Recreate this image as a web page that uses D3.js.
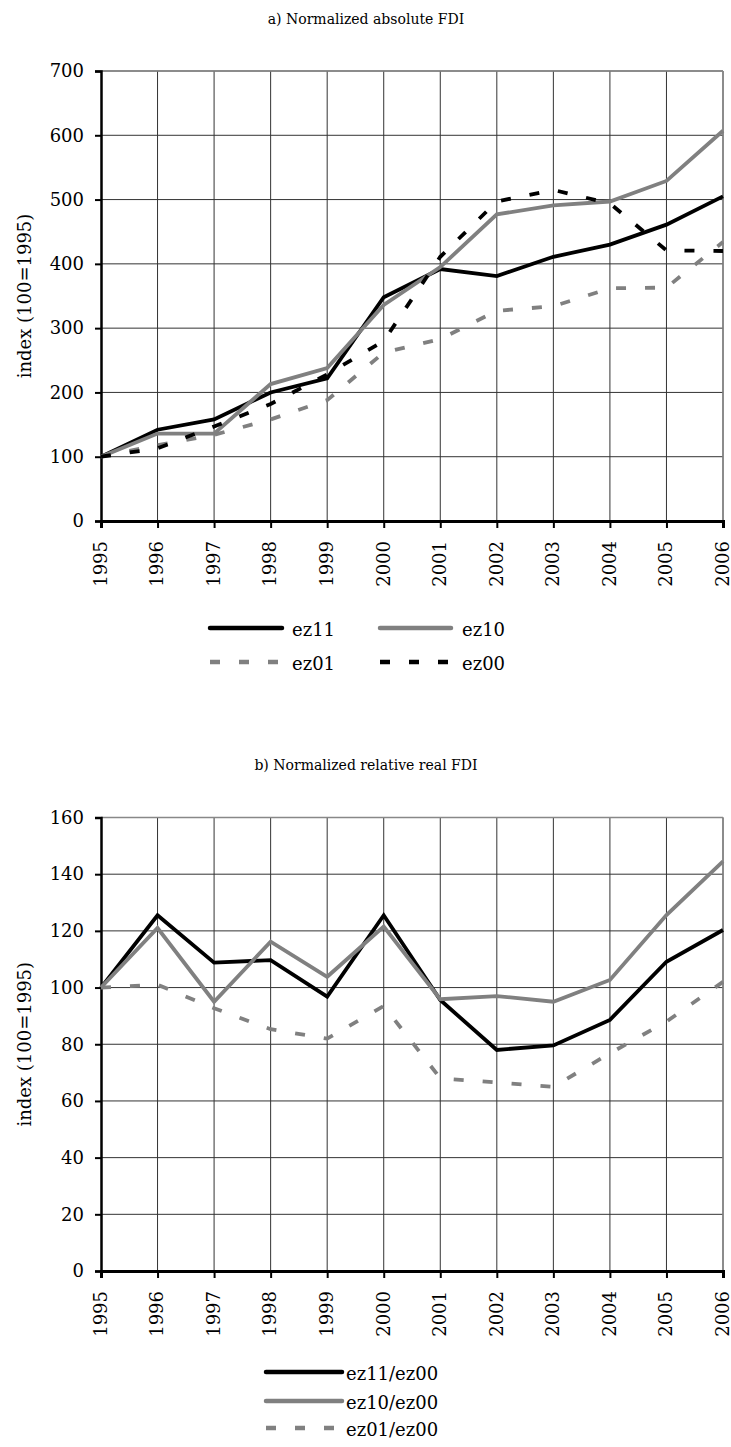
<!DOCTYPE html>
<html>
<head>
<meta charset="utf-8">
<script src="https://cdn.jsdelivr.net/npm/d3@7"></script>
<style>
  html, body { margin: 0; padding: 0; background: #fff; }
  svg { display: block; }
  text { font-family: "DejaVu Serif", serif; fill: #000; }
</style>
</head>
<body>
<svg id="chart" width="731" height="1447"></svg>
<script>
// ---------- data ----------
const years = [1995, 1996, 1997, 1998, 1999, 2000, 2001, 2002, 2003, 2004, 2005, 2006];

// a) Normalized absolute FDI
const absEz11 = [100, 142, 158, 200, 222, 348, 392, 381, 411, 430, 461, 505];
const absEz10 = [100, 136, 136, 213, 238, 336, 395, 477, 491, 497, 529, 607];
const absEz01 = [100, 118, 134, 158, 188, 262, 283, 327, 334, 362, 363, 434];
const absEz00 = [100, 113, 147, 182, 228, 280, 411, 497, 515, 494, 421, 420];
const absTicks = [0, 100, 200, 300, 400, 500, 600, 700];

// b) Normalized relative real FDI
const relEz11 = [100, 125.5, 108.8, 109.7, 96.8, 125.5, 95.6, 78, 79.6, 88.6, 109.1, 120.3];
const relEz10 = [100, 121, 95, 116.2, 103.8, 121.5, 95.9, 97, 95, 102.7, 125.6, 144.5];
const relEz01 = [100, 101, 92.7, 85.3, 82, 93.5, 68, 66.5, 65, 76.8, 88, 102];
const relTicks = [0, 20, 40, 60, 80, 100, 120, 140, 160];

const titleA = "a) Normalized absolute FDI";
const titleB = "b) Normalized relative real FDI";
const yLabel = "index (100=1995)";

// ---------- styles ----------
const FONT = "'DejaVu Serif', serif";
const BLACK = "#000000", GRAY = "#808080";
const DASH = "10,19";

const svg = d3.select("#chart");
svg.append("rect").attr("width", 731).attr("height", 1447).attr("fill", "#fff");

function panel(cfg) {
  const g = svg.append("g");
  const x = d3.scalePoint().domain(years).range([cfg.left, cfg.right]);
  const y = d3.scaleLinear().domain([0, d3.max(cfg.ticks)]).range([cfg.bottom, cfg.top]);

  // title
  g.append("text").attr("x", 366).attr("y", cfg.titleY)
    .attr("text-anchor", "middle").style("font-family", FONT).style("font-size", "14px").text(cfg.title);

  // grid
  g.append("g").selectAll("line").data(cfg.ticks.filter(t => t > 0)).join("line")
    .attr("x1", cfg.left).attr("x2", cfg.right)
    .attr("y1", d => y(d)).attr("y2", d => y(d))
    .attr("stroke", "#333").attr("stroke-width", 1);
  g.append("g").selectAll("line").data(years.slice(1)).join("line")
    .attr("x1", d => x(d)).attr("x2", d => x(d))
    .attr("y1", cfg.top).attr("y2", cfg.bottom)
    .attr("stroke", "#333").attr("stroke-width", 1);
  // top / right border (gray)
  g.append("line").attr("x1", cfg.left).attr("x2", cfg.right).attr("y1", cfg.top).attr("y2", cfg.top)
    .attr("stroke", "#888").attr("stroke-width", 1.5);
  g.append("line").attr("x1", cfg.right).attr("x2", cfg.right).attr("y1", cfg.top).attr("y2", cfg.bottom)
    .attr("stroke", "#888").attr("stroke-width", 1.5);

  // y axis
  const ya = d3.axisLeft(y).tickValues(cfg.ticks).tickSize(6).tickPadding(11).tickFormat(d3.format("d"));
  const yg = g.append("g").attr("transform", `translate(${cfg.left},0)`).call(ya)
    .attr("font-family", null).attr("font-size", null);
  yg.select(".domain").attr("stroke", BLACK).attr("stroke-width", 2.5);
  yg.selectAll(".tick line").attr("stroke", BLACK).attr("stroke-width", 2);
  yg.selectAll(".tick text").style("font-size", "18px").style("font-family", FONT).attr("fill", "#000");

  // x axis
  const xa = d3.axisBottom(x).tickSize(7).tickPadding(0).tickFormat(d3.format("d"));
  const xg = g.append("g").attr("transform", `translate(0,${cfg.bottom})`).call(xa)
    .attr("font-family", null).attr("font-size", null);
  xg.select(".domain").attr("stroke", BLACK).attr("stroke-width", 3);
  xg.selectAll(".tick line").attr("stroke", BLACK).attr("stroke-width", 2);
  xg.selectAll(".tick text")
    .style("font-size", "18px").style("font-family", FONT).attr("fill", "#000")
    .attr("text-anchor", "end").attr("dy", "0.35em")
    .attr("transform", "translate(-1,20) rotate(-90)").attr("y", 0).attr("x", 0);

  // y label
  g.append("text")
    .attr("transform", `translate(31,${(cfg.top + cfg.bottom) / 2}) rotate(-90)`)
    .attr("text-anchor", "middle").style("font-family", FONT).style("font-size", "18px").text(yLabel);

  // lines
  const line = d3.line().x((d, i) => x(years[i])).y(d => y(d));
  cfg.series.forEach(s => {
    g.append("path").datum(s.values)
      .attr("d", line).attr("fill", "none")
      .attr("stroke", s.color).attr("stroke-width", 3.8)
      .attr("stroke-linejoin", "miter")
      .attr("stroke-dasharray", s.dashed ? DASH : null);
  });

  // legend
  const lg = g.append("g");
  cfg.series.forEach((s, i) => {
    const p = cfg.legendPos[i];
    lg.append("line").attr("x1", p.x1).attr("x2", p.x2).attr("y1", p.y).attr("y2", p.y)
      .attr("stroke", s.color).attr("stroke-width", 4.5)
      .attr("stroke-linecap", s.dashed ? "butt" : "round")
      .attr("stroke-dasharray", s.dashed ? DASH : null);
    lg.append("text").attr("x", p.tx).attr("y", p.y + 8)
      .style("font-family", FONT).style("font-size", "18px").text(s.name);
  });
}

panel({
  title: titleA, titleY: 24,
  left: 101, right: 723, top: 71, bottom: 521,
  ticks: absTicks,
  series: [
    { name: "ez11", values: absEz11, color: BLACK, dashed: false },
    { name: "ez10", values: absEz10, color: GRAY, dashed: false },
    { name: "ez01", values: absEz01, color: GRAY, dashed: true },
    { name: "ez00", values: absEz00, color: BLACK, dashed: true }
  ],
  legendPos: [
    { x1: 210, x2: 282, tx: 292, y: 628 },
    { x1: 380, x2: 451, tx: 462, y: 628 },
    { x1: 210, x2: 282, tx: 292, y: 662 },
    { x1: 380, x2: 451, tx: 462, y: 662 }
  ]
});

panel({
  title: titleB, titleY: 770,
  left: 101, right: 723, top: 817.5, bottom: 1271,
  ticks: relTicks,
  series: [
    { name: "ez11/ez00", values: relEz11, color: BLACK, dashed: false },
    { name: "ez10/ez00", values: relEz10, color: GRAY, dashed: false },
    { name: "ez01/ez00", values: relEz01, color: GRAY, dashed: true }
  ],
  legendPos: [
    { x1: 266, x2: 342, tx: 346, y: 1372 },
    { x1: 266, x2: 342, tx: 346, y: 1401 },
    { x1: 266, x2: 342, tx: 346, y: 1428 }
  ]
});
</script>
</body>
</html>
